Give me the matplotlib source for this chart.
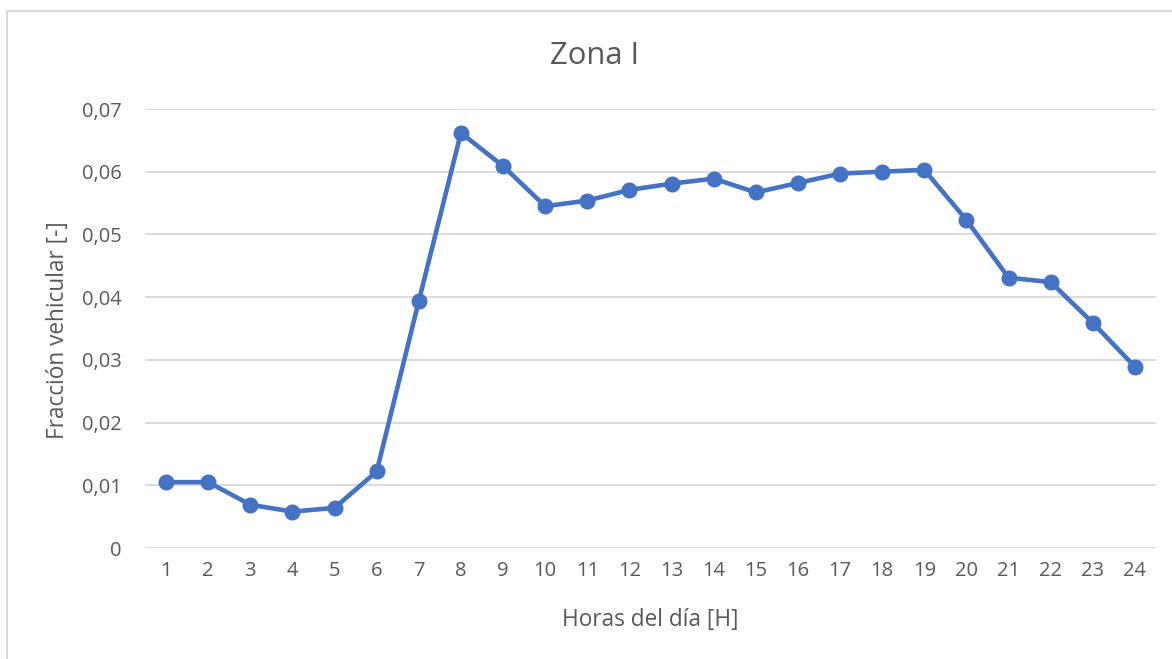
import matplotlib
matplotlib.use("Agg")
import matplotlib.pyplot as plt
from matplotlib.patches import Rectangle
from matplotlib.ticker import FuncFormatter

hours = list(range(1, 25))
fraction = [0.0105, 0.0105, 0.0069, 0.0058, 0.0064, 0.0122, 0.0394, 0.0662,
            0.0609, 0.0545, 0.0554, 0.0571, 0.0581, 0.0589, 0.0567, 0.0582,
            0.0597, 0.0600, 0.0603, 0.0523, 0.0431, 0.0424, 0.0359, 0.0289]
yticks = [0, 0.01, 0.02, 0.03, 0.04, 0.05, 0.06, 0.07]

plt.rcParams['font.family'] = ['Open Sans', 'DejaVu Sans']
txt = '#595959'

fig = plt.figure(figsize=(11.72, 6.59), dpi=100)
fig.patches.append(Rectangle((7/1172, -0.01), 1.02, 1 - 11/659 + 0.01,
                             transform=fig.transFigure, fill=False,
                             edgecolor='#D9D9D9', linewidth=1.5))
ax = fig.add_axes([145/1172, 1 - 548/659, (1156 - 145)/1172, (548 - 109)/659])

ax.plot(hours, fraction, color='#4472C4', linewidth=3.3, marker='o',
        markersize=10.5, zorder=3, solid_capstyle='round')

ax.set_xlim(0.5, 24.5)
ax.set_ylim(0, 0.07)
ax.set_xticks(hours)
ax.set_yticks(yticks)
ax.yaxis.set_major_formatter(FuncFormatter(
    lambda v, p: '0' if v == 0 else f'{v:.2f}'.replace('.', ',')))
ax.grid(axis='y', color='#D9D9D9', linewidth=1.3)
ax.set_axisbelow(True)
for s in ax.spines.values():
    s.set_visible(False)
ax.tick_params(axis='both', length=0, colors=txt, labelsize=14.5)
ax.tick_params(axis='y', pad=17)
ax.tick_params(axis='x', pad=9)

ax.set_xlabel('Horas del día [H]', color=txt, fontsize=16.3, va='center')
ax.set_ylabel('Fracción vehicular [-]', color=txt, fontsize=16.3, va='center')
ax.xaxis.set_label_coords(0.5, (548 - 620) / 439)
ax.yaxis.set_label_coords((58 - 145) / 1011, 0.5 - (330 - 328.5) / 439)
fig.text(595/1172, 1 - 56/659, 'Zona I', color=txt, fontsize=22.3,
         ha='center', va='center')

fig.savefig('out.png', dpi=100)
